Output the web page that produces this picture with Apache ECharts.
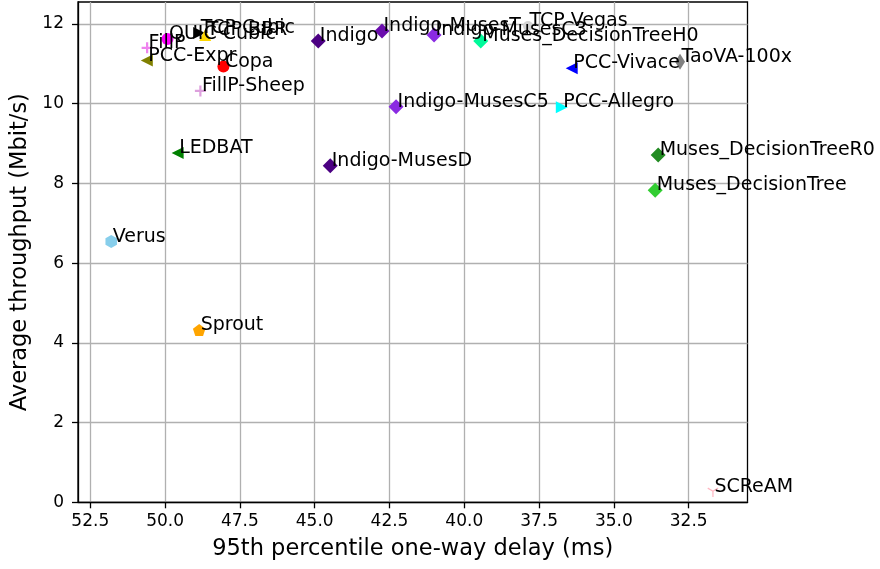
<!DOCTYPE html>
<html>
<head>
<meta charset="utf-8">
<script src="https://cdn.jsdelivr.net/npm/echarts@6/dist/echarts.min.js"></script>
<style>html,body{margin:0;padding:0;background:#fff;}#chart{width:880px;height:569px;}</style>
</head>
<body>
<div id="chart"></div>
<script>
// ---- data ----
const schemes = ['QUIC Cubic','FillP','PCC-Expr','TCP Cubic','TCP BBR','Copa','FillP-Sheep','LEDBAT','Verus','Sprout',
  'Indigo','Indigo-MusesT','Indigo-MusesC3','Muses_DecisionTreeH0','TCP Vegas','PCC-Vivace','TaoVA-100x','PCC-Allegro',
  'Indigo-MusesC5','Indigo-MusesD','Muses_DecisionTreeR0','Muses_DecisionTree','SCReAM'];
const delays = [49.92,50.60,50.61,48.86,48.66,48.05,48.82,49.58,51.80,48.86,
  44.88,42.75,41.01,39.45,37.87,36.41,32.79,36.74,
  42.28,44.48,33.52,33.62,31.69];
const throughputs = [11.62,11.40,11.08,11.77,11.72,10.93,10.32,8.76,6.54,4.32,
  11.57,11.82,11.72,11.57,11.95,10.89,11.05,9.91,
  9.92,8.44,8.71,7.83,0.25];
const xTicks = [32.5,35.0,37.5,40.0,42.5,45.0,47.5,50.0,52.5];
const yTicks = [0,2,4,6,8,10,12];

// ---- marker styles ----
const TRI_LEFT = 'path://M0,10 L20,0 L20,20 Z';
const TRI_RIGHT = 'path://M20,10 L0,0 L0,20 Z';
const PLUS = 'path://M8,0 H12 V8 H20 V12 H12 V20 H8 V12 H0 V8 H8 Z';
const PENTAGON = 'path://M10,0 L19.51,6.91 L15.88,18.09 L4.12,18.09 L0.49,6.91 Z';
const HEXAGON = 'path://M10,0 L18.66,5 L18.66,15 L10,20 L1.34,15 L1.34,5 Z';
const TRI_DOWN = 'path://M9,20 L11,20 L11,10.6 L19.16,5.87 L18.16,4.13 L10,8.85 L1.84,4.13 L0.84,5.87 L9,10.6 Z';
const styles = {
  'QUIC Cubic': ['circle', 12, '#ff00ff'],
  'FillP': [PLUS, 11, '#ee82ee'],
  'PCC-Expr': [TRI_LEFT, 12, '#808000'],
  'TCP Cubic': [TRI_RIGHT, 12, '#000000'],
  'TCP BBR': ['triangle', 12, '#ffd700'],
  'Copa': ['circle', 12, '#ff0000'],
  'FillP-Sheep': [PLUS, 11, '#dda0dd'],
  'LEDBAT': [TRI_LEFT, 12, '#008000'],
  'Verus': [HEXAGON, [11.5, 13], '#87ceeb'],
  'Sprout': [PENTAGON, [12.5, 12], '#ffa500'],
  'Indigo': ['diamond', 15, '#4b0082'],
  'Indigo-MusesT': ['diamond', 15, '#6a0dad'],
  'Indigo-MusesC3': ['diamond', 15, '#8a2be2'],
  'Muses_DecisionTreeH0': ['diamond', 15, '#00fa9a'],
  'TCP Vegas': ['circle', 10, '#d3d3d3'],
  'PCC-Vivace': [TRI_LEFT, 12, '#0000ff'],
  'TaoVA-100x': ['diamond', [10, 16], '#808080'],
  'PCC-Allegro': [TRI_RIGHT, 12, '#00ffff'],
  'Indigo-MusesC5': ['diamond', 15, '#8a2be2'],
  'Indigo-MusesD': ['diamond', 15, '#4b0082'],
  'Muses_DecisionTreeR0': ['diamond', 15, '#228b22'],
  'Muses_DecisionTree': ['diamond', 15, '#32cd32'],
  'SCReAM': [TRI_DOWN, [11, 9.5], '#ffb6c1']
};

const FONT = 'DejaVu Sans';
const points = schemes.map((name, i) => {
  const s = styles[name];
  return {
    name: name,
    value: [delays[i], throughputs[i]],
    symbol: s[0],
    symbolSize: s[1],
    itemStyle: { color: s[2], opacity: 1 }
  };
});

const chart = echarts.init(document.getElementById('chart'), null, { renderer: 'canvas' });
chart.setOption({
  animation: false,
  backgroundColor: '#ffffff',
  grid: {
    left: 78, right: 132.5, top: 2, bottom: 66.7,
    containLabel: false, outerBoundsMode: 'none',
    show: true, borderColor: '#000', borderWidth: 1.3, backgroundColor: 'transparent'
  },
  xAxis: {
    type: 'value', inverse: true, min: 30.535, max: 52.91,
    name: '95th percentile one-way delay (ms)', nameLocation: 'middle', nameGap: 35,
    nameTextStyle: { fontFamily: FONT, fontSize: 22.5, color: '#000' },
    axisLine: { show: true, onZero: false, lineStyle: { color: '#000', width: 1.3 } },
    axisTick: { show: true, length: 6, lineStyle: { color: '#000', width: 1.3 }, customValues: xTicks },
    axisLabel: { customValues: xTicks, margin: 11, fontFamily: FONT, fontSize: 17, color: '#000',
      formatter: v => v.toFixed(1) },
    splitLine: { show: true, lineStyle: { color: '#b0b0b0', width: 1.3 } }
  },
  yAxis: {
    type: 'value', min: 0, max: 12.55,
    name: 'Average throughput (Mbit/s)', nameLocation: 'middle', nameRotate: 90, nameGap: 42.5,
    nameTextStyle: { fontFamily: FONT, fontSize: 22.5, color: '#000' },
    axisLine: { show: true, onZero: false, lineStyle: { color: '#000', width: 1.3 } },
    axisTick: { show: true, length: 6, lineStyle: { color: '#000', width: 1.3 }, customValues: yTicks },
    axisLabel: { customValues: yTicks, margin: 14, fontFamily: FONT, fontSize: 17, color: '#000',
      formatter: v => String(Math.round(v)) },
    splitLine: { show: true, lineStyle: { color: '#b0b0b0', width: 1.3 } }
  },
  series: [{
    type: 'scatter',
    clip: false,
    data: points,
    label: {
      show: true, position: 'inside', align: 'left', verticalAlign: 'bottom',
      offset: [1.5, 4.5], lineHeight: 19,
      formatter: p => p.name, fontFamily: FONT, fontSize: 19, color: '#000'
    },
    emphasis: { disabled: true }
  }]
});
</script>
</body>
</html>
